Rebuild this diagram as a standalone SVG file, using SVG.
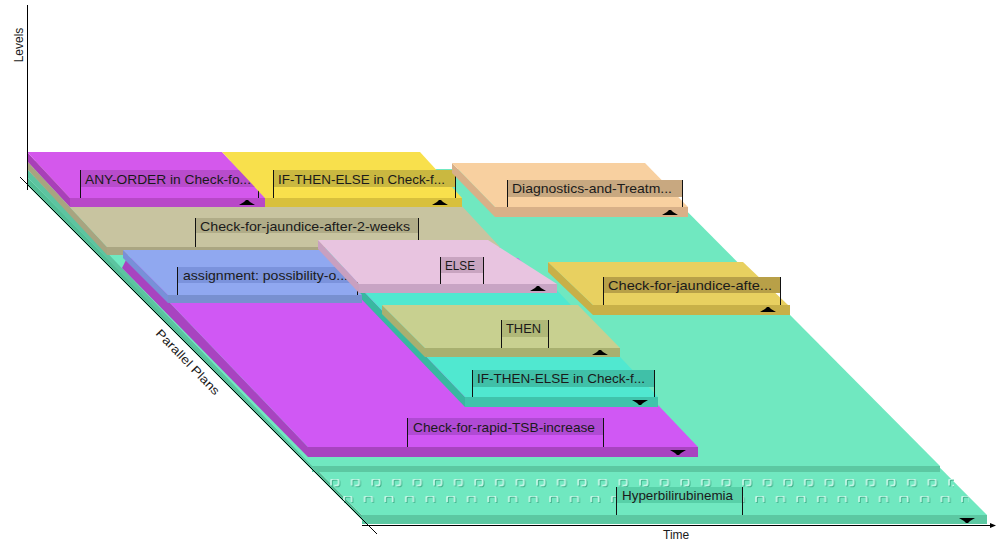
<svg xmlns="http://www.w3.org/2000/svg" width="996" height="542" viewBox="0 0 996 542">
<style>
  text { font-family: "Liberation Sans", Arial, sans-serif; font-size: 13px; fill: #1a1a1a; }
  .ax { stroke: #000; stroke-width: 1; fill: none; }
  .flag { stroke: #111; stroke-width: 1; }
  .axlabel { font-size: 12px; }
</style>
<defs>
  <!-- expand / collapse markers on the front faces -->
  <path id="up" d="M-8,2 L8,2 L3,-1 L1,-3 L-1,-3 L-3,-1 Z" fill="#000"/>
  <path id="dn" d="M-8,-2 L8,-2 L3,1 L1,3 L-1,3 L-3,1 Z" fill="#000"/>
  <!-- embossed cells on the base plan -->
  <pattern id="cellsA" x="330" y="479" width="20.6" height="10" patternUnits="userSpaceOnUse">
    <path d="M2,7.5 V3 Q2,1 4,1 H7.5 Q9.5,1 9.5,3 V5.5 Q9.5,7.5 7.5,7.5 H5.3" fill="none" stroke="#46b48e" stroke-width="1.7"/>
    <path d="M1,6.5 V2 Q1,0 3,0 H6.5 Q8.5,0 8.5,2 V4.5 Q8.5,6.5 6.5,6.5 H4.3" fill="none" stroke="#c4f6e6" stroke-width="1.7"/>
  </pattern>
  <pattern id="cellsB" x="343" y="496" width="20.6" height="10" patternUnits="userSpaceOnUse">
    <path d="M2,7 V3 Q2,1 4,1 H7.5 Q9.5,1 9.5,3 V7" fill="none" stroke="#46b48e" stroke-width="1.7"/>
    <path d="M1,6 V2 Q1,0 3,0 H6.5 Q8.5,0 8.5,2 V6" fill="none" stroke="#c4f6e6" stroke-width="1.7"/>
  </pattern>
</defs>
<rect width="996" height="542" fill="#ffffff"/>

<!-- base plan -->
<g id="plan-hyperbilirubinemia">
  <polygon points="27,177 362,515 366,524 27,185" fill="#52bc94"/>
  <polygon points="27,177 651,177 987,515 362,515" fill="#70e8c0"/>
  <rect x="362" y="515" width="625" height="9" fill="#5cc8a2"/>
  <rect x="326" y="479" width="628" height="10" fill="url(#cellsA)"/>
  <rect x="339" y="496" width="630" height="9" fill="url(#cellsB)"/>
  <rect x="616" y="487" width="126" height="16" fill="#58d0a8"/>
  <line class="flag" x1="616.5" y1="487" x2="616.5" y2="515"/>
  <line class="flag" x1="742.5" y1="487" x2="742.5" y2="515"/>
  <text x="622" y="500" textLength="111" lengthAdjust="spacingAndGlyphs">Hyperbilirubinemia</text>
  <use href="#dn" x="967" y="520"/>
</g>

<!-- first sub-level (no label shown) -->
<g id="plan-level-1">
  <polygon points="27,169 312,466 316,472 27,177" fill="#5cc4a0"/>
  <polygon points="27,169 645,169 940,466 312,466" fill="#70e8c0"/>
  <rect x="312" y="466" width="628" height="6" fill="#5cc8a2"/>
</g>

<g id="plan-check-jaundice-2-weeks">
  <polygon points="27,161 107,247 107,255 27,169" fill="#a8a480"/>
  <polygon points="27,161 420,161 500,247 107,247" fill="#c8c4a0"/>
  <rect x="107" y="247" width="393" height="8" fill="#aaa682"/>
  <rect x="195" y="218" width="223" height="15" fill="#b0ac88"/>
  <line class="flag" x1="195.5" y1="218" x2="195.5" y2="247"/>
  <line class="flag" x1="418.5" y1="218" x2="418.5" y2="247"/>
  <text x="200" y="231" textLength="210" lengthAdjust="spacingAndGlyphs">Check-for-jaundice-after-2-weeks</text>
</g>

<g id="plan-any-order">
  <polygon points="27,152 70,198 70,207 27,161" fill="#a840b8"/>
  <polygon points="27,152 222,152 265,198 70,198" fill="#d458ec"/>
  <rect x="70" y="198" width="195" height="9" fill="#b848c8"/>
  <rect x="80" y="170" width="178" height="17" fill="#b84ccc"/>
  <line class="flag" x1="80.5" y1="170" x2="80.5" y2="198"/>
  <line class="flag" x1="258.5" y1="170" x2="258.5" y2="198"/>
  <text x="85" y="184" textLength="166" lengthAdjust="spacingAndGlyphs">ANY-ORDER in Check-fo...</text>
  <use href="#up" x="247" y="203"/>
</g>

<g id="plan-if-then-else-a">
  <polygon points="222,152 420,152 462,198 265,198" fill="#f8e04c"/>
  <rect x="265" y="198" width="197" height="9" fill="#d8c03c"/>
  <rect x="273" y="170" width="182" height="17" fill="#cab840"/>
  <line class="flag" x1="273.5" y1="170" x2="273.5" y2="198"/>
  <line class="flag" x1="455.5" y1="170" x2="455.5" y2="198"/>
  <text x="278" y="184" textLength="167" lengthAdjust="spacingAndGlyphs">IF-THEN-ELSE in Check-f...</text>
  <use href="#up" x="440" y="203"/>
</g>

<g id="plan-diagnostics">
  <polygon points="452,163 495,207 495,217 452,173" fill="#d8b088"/>
  <polygon points="452,163 645,163 688,207 495,207" fill="#f8d0a0"/>
  <rect x="495" y="207" width="193" height="10" fill="#d8b088"/>
  <rect x="507" y="180" width="175" height="17" fill="#c8a880"/>
  <line class="flag" x1="507.5" y1="180" x2="507.5" y2="207"/>
  <line class="flag" x1="682.5" y1="180" x2="682.5" y2="207"/>
  <text x="512" y="193" textLength="160" lengthAdjust="spacingAndGlyphs">Diagnostics-and-Treatm...</text>
  <use href="#up" x="670" y="213"/>
</g>

<g id="plan-rapid-tsb">
  <polygon points="127,258 308,447 308,457 122,268" fill="#a844c0"/>
  <polygon points="127,258 518,258 698,447 308,447" fill="#d058f4"/>
  <rect x="308" y="447" width="390" height="10" fill="#a844c0"/>
  <rect x="407" y="418" width="196" height="17" fill="#b04ad4"/>
  <line class="flag" x1="407.5" y1="418" x2="407.5" y2="447"/>
  <line class="flag" x1="603.5" y1="418" x2="603.5" y2="447"/>
  <text x="413" y="432" textLength="182" lengthAdjust="spacingAndGlyphs">Check-for-rapid-TSB-increase</text>
  <use href="#dn" x="678" y="452"/>
</g>

<g id="plan-if-then-else-b">
  <polygon points="322,248 465,397 465,407 322,258" fill="#38b8a0"/>
  <polygon points="322,248 494,248 551,284 658,397 465,397" fill="#50e8d0"/>
  <rect x="465" y="397" width="193" height="10" fill="#40c4ac"/>
  <rect x="472" y="370" width="182" height="17" fill="#40c0a8"/>
  <line class="flag" x1="472.5" y1="370" x2="472.5" y2="397"/>
  <line class="flag" x1="654.5" y1="370" x2="654.5" y2="397"/>
  <text x="477" y="383" textLength="168" lengthAdjust="spacingAndGlyphs">IF-THEN-ELSE in Check-f...</text>
  <use href="#dn" x="640" y="402"/>
</g>

<g id="plan-assignment">
  <polygon points="123,250 168,295 168,303 123,258" fill="#7890d8"/>
  <polygon points="123,250 320,250 362,295 168,295" fill="#90a8f0"/>
  <rect x="168" y="295" width="194" height="8" fill="#7890d0"/>
  <rect x="177" y="267" width="180" height="16" fill="#7b93dc"/>
  <line class="flag" x1="177.5" y1="267" x2="177.5" y2="295"/>
  <line class="flag" x1="357.5" y1="267" x2="357.5" y2="295"/>
  <text x="183" y="280" textLength="165" lengthAdjust="spacingAndGlyphs">assignment: possibility-o...</text>
</g>

<g id="plan-else">
  <polygon points="318,240 359,284 359,293 318,249" fill="#c8a0c0"/>
  <polygon points="318,240 488,240 557,284 359,284" fill="#e8c4e0"/>
  <rect x="359" y="284" width="198" height="9" fill="#c8a4c4"/>
  <rect x="440" y="257" width="43" height="16" fill="#c8a4c0"/>
  <line class="flag" x1="440.5" y1="257" x2="440.5" y2="284"/>
  <line class="flag" x1="483.5" y1="257" x2="483.5" y2="284"/>
  <text x="445" y="270" font-size="13.5" textLength="30" lengthAdjust="spacingAndGlyphs">ELSE</text>
  <use href="#up" x="538" y="289"/>
</g>

<g id="plan-check-jaundice-after">
  <polygon points="548,262 593,305 593,315 548,272" fill="#c8b048"/>
  <polygon points="548,262 743,262 788,305 593,305" fill="#e8d060"/>
  <rect x="593" y="305" width="197" height="10" fill="#c8b048"/>
  <rect x="603" y="277" width="177" height="16" fill="#b8a048"/>
  <line class="flag" x1="603.5" y1="277" x2="603.5" y2="305"/>
  <line class="flag" x1="780.5" y1="277" x2="780.5" y2="305"/>
  <text x="608" y="290" textLength="164" lengthAdjust="spacingAndGlyphs">Check-for-jaundice-afte...</text>
  <use href="#up" x="768" y="310"/>
</g>

<g id="plan-then">
  <polygon points="382,305 425,348 425,357 382,314" fill="#a8b070"/>
  <polygon points="382,305 578,305 620,348 425,348" fill="#c8d090"/>
  <rect x="425" y="348" width="195" height="9" fill="#a8b070"/>
  <rect x="501" y="320" width="47" height="17" fill="#b0b878"/>
  <line class="flag" x1="501.5" y1="320" x2="501.5" y2="348"/>
  <line class="flag" x1="548.5" y1="320" x2="548.5" y2="348"/>
  <text x="506" y="333" font-size="13.5" textLength="35" lengthAdjust="spacingAndGlyphs">THEN</text>
  <use href="#up" x="600" y="353"/>
</g>

<!-- axes -->
<g id="axes">
  <line class="ax" x1="27.5" y1="5" x2="27.5" y2="190"/>
  <line class="ax" x1="20" y1="177" x2="377" y2="534"/>
  <line class="ax" x1="362" y1="525.5" x2="992" y2="525.5"/>
  <polygon points="990,523 996,525.5 990,528" fill="#000"/>
  <text class="axlabel" transform="translate(23,45) rotate(-90)" text-anchor="middle">Levels</text>
  <text class="axlabel" transform="translate(155,334) rotate(46)" font-size="13" textLength="86" lengthAdjust="spacingAndGlyphs">Parallel Plans</text>
  <text class="axlabel" x="663" y="539">Time</text>
</g>
</svg>
